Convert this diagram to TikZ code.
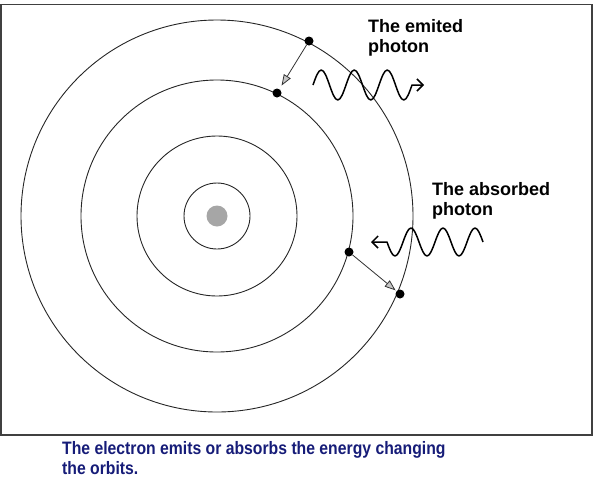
\documentclass[tikz,border=0pt]{standalone}
\usepackage{fontspec}
\setmainfont{Liberation Sans}
\usetikzlibrary{arrows.meta}
\definecolor{capblue}{RGB}{22,28,120}
\tikzset{
  orbit/.style={draw=black!85,line width=0.9pt},
  electron/.style={circle,fill=black,inner sep=0pt,minimum size=9pt},
  jump/.style={draw=black!80,line width=0.8pt,-{Triangle[open,fill=gray!45,length=11pt,width=8pt]}},
  photon/.style={line width=1.5pt,line join=round,-{Straight Barb[length=6pt,width=12pt]}},
  tag/.style={font=\bfseries\fontsize{18}{20.5}\selectfont,align=left,inner sep=0pt,anchor=north west}
}
\begin{document}
\begin{tikzpicture}[x=1pt,y=-1pt]
\useasboundingbox (0,0) rectangle (597,480);
\draw[line width=1.6pt,black!75] (1,4.5) rectangle (592,435);

% atom
\node[circle,fill=gray!70,inner sep=0pt,minimum size=21pt] (nucleus) at (217,216) {};
\foreach \r in {33,80,136,196}
  \draw[orbit] (nucleus.center) circle (\r);

% electrons
\node[electron] (e1) at (309,41) {};
\node[electron] (e2) at (277,93) {};
\node[electron] (e3) at (349,252) {};
\node[electron] (e4) at (400,294) {};
\path[jump] (e1) edge [shorten >=4pt] (e2);
\path[jump] (e3) edge [shorten >=1pt] (e4);

% photons
\coordinate (ps1) at (313,85);
\coordinate (pe1) at (424,85);
\coordinate (ps2) at (483,242);
\coordinate (pe2) at (371,242);
\draw[photon] (ps1) \foreach \k in {1,2,3} {
  sin ++(8.25,-15) cos ++(8.25,15) sin ++(8.25,15) cos ++(8.25,-15)} -- (pe1);
\draw[photon] (ps2) \foreach \k in {1,2,3} {
  sin ++(-8,-14) cos ++(-8,14) sin ++(-8,14) cos ++(-8,-14)} -- (pe2);

\node[tag] (emit) at (368,19) {The emited\\photon};
\node[tag] (absorb) at (432,182) {The absorbed\\photon};

\node[tag,font=\bfseries\fontsize{18}{20.5}\selectfont,text=capblue] (caption) at (62,441)
  {\scalebox{0.875}[1]{The electron emits or absorbs the energy changing}\\
   \scalebox{0.875}[1]{the orbits.}};
\end{tikzpicture}
\end{document}
